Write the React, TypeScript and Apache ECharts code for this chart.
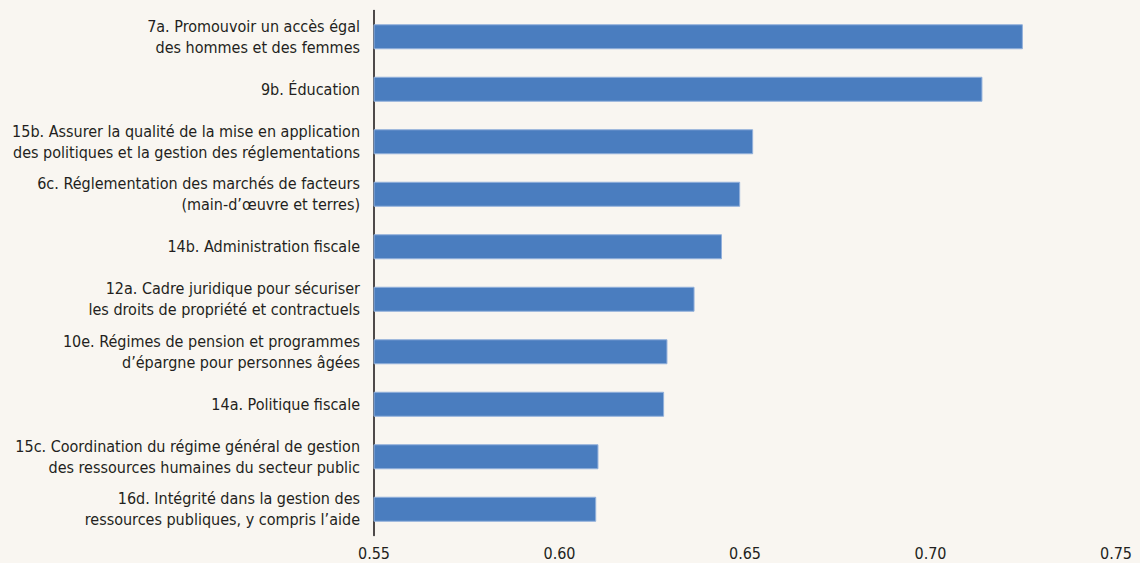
import React, { useEffect, useRef } from "react";
import * as echarts from "echarts";

const categories = [
  "7a. Promouvoir un accès égal\ndes hommes et des femmes",
  "9b. Éducation",
  "15b. Assurer la qualité de la mise en application\ndes politiques et la gestion des réglementations",
  "6c. Réglementation des marchés de facteurs\n(main-d’œuvre et terres)",
  "14b. Administration fiscale",
  "12a. Cadre juridique pour sécuriser\nles droits de propriété et contractuels",
  "10e. Régimes de pension et programmes\nd’épargne pour personnes âgées",
  "14a. Politique fiscale",
  "15c. Coordination du régime général de gestion\ndes ressources humaines du secteur public",
  "16d. Intégrité dans la gestion des\nressources publiques, y compris l’aide",
];

const values = [0.7249, 0.714, 0.6522, 0.6487, 0.6438, 0.6364, 0.6291, 0.6282, 0.6105, 0.6099];

const xMin = 0.55;
const xMax = 0.75;
const xInterval = 0.05;

const FONT = "'Liberation Sans Narrow', 'DejaVu Sans Condensed', sans-serif";

export default function App() {
  const ref = useRef<HTMLDivElement>(null);
  useEffect(() => {
    document.body.style.margin = "0";
    const chart = echarts.init(ref.current!, null, { renderer: "svg" });
    chart.setOption({
      animation: false,
      backgroundColor: "#f9f6f1",
      grid: {
        left: 374,
        right: 24,
        top: 10.5,
        bottom: 27.5,
        containLabel: false,
        outerBoundsMode: "none",
      },
      xAxis: {
        type: "value",
        min: xMin,
        max: xMax,
        interval: xInterval,
        axisLine: { show: false },
        axisTick: { show: false },
        splitLine: { show: false },
        axisLabel: {
          margin: 10,
          color: "#231f20",
          fontFamily: FONT,
          fontSize: 16,
          formatter: (v: number) => v.toFixed(2),
        },
      },
      yAxis: {
        type: "category",
        inverse: true,
        data: categories,
        axisLine: { show: true, lineStyle: { color: "#231f20", width: 1.6 } },
        axisTick: { show: false },
        axisLabel: {
          margin: 14,
          color: "#231f20",
          fontFamily: FONT,
          fontSize: 16,
          lineHeight: 21,
          align: "right",
        },
      },
      series: [
        {
          type: "bar",
          data: values,
          barWidth: 25,
          itemStyle: { color: "#4a7dbf", borderColor: "#93b1db", borderWidth: 1 },
        },
      ],
    });
    return () => chart.dispose();
  }, []);
  return <div ref={ref} style={{ width: 1140, height: 563 }} />;
}
